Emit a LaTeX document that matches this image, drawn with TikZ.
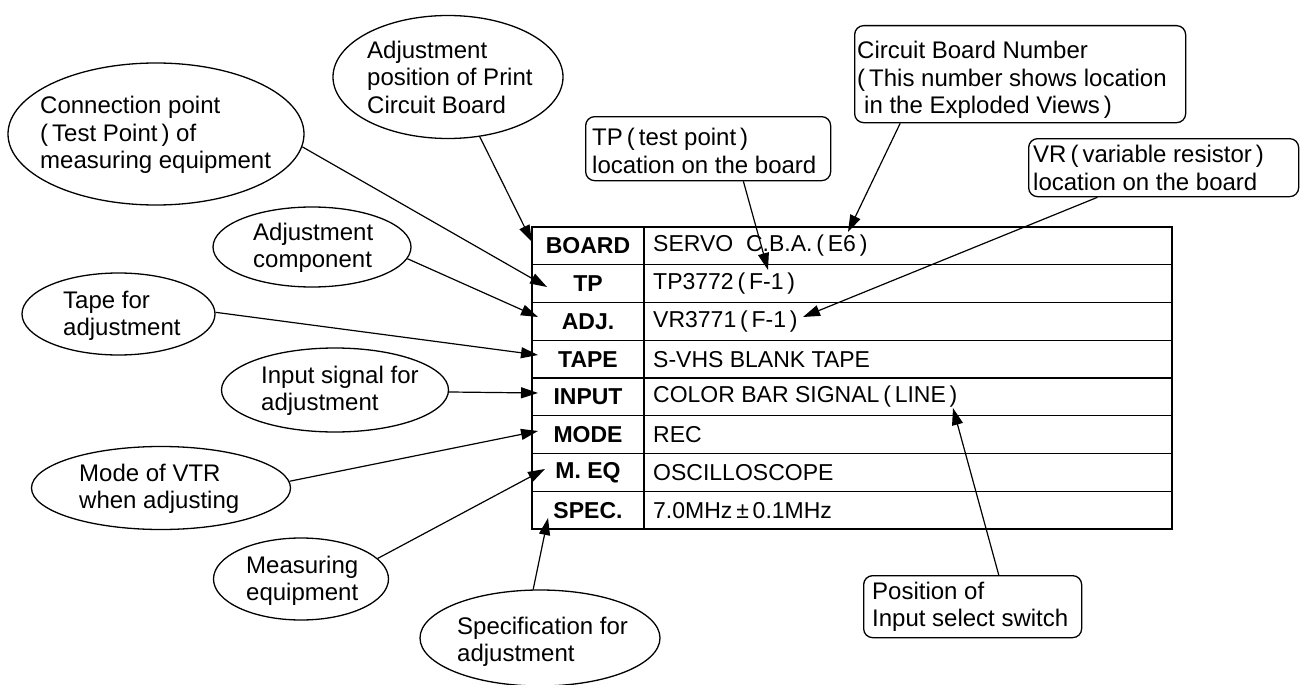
\documentclass[tikz,border=0pt]{standalone}
\usepackage{fontspec}
\setmainfont{Liberation Sans}
\usetikzlibrary{arrows.meta,shapes.geometric,calc}
\begin{document}
\begin{tikzpicture}[x=1pt,y=-1pt,
  ell/.style={draw, ellipse, line width=1.3pt, inner sep=0pt},
  ctext/.style={anchor=west, align=left, inner sep=0pt, font=\fontsize{24}{27.5}\selectfont},
  rbox/.style={draw, rounded corners=9pt, line width=1.3pt, anchor=north west, inner sep=0pt},
  lab/.style={font=\fontsize{23}{26}\selectfont\bfseries, inner sep=0pt},
  val/.style={anchor=west, font=\fontsize{23}{26}\selectfont, inner sep=0pt},
  arr/.style={line width=1.2pt, -{Triangle[length=17pt,width=11pt]}}]

\useasboundingbox (0,0) rectangle (1302,685);

% ---- table ----
\draw[line width=1.8pt] (532,227) rectangle (1172,529);
\draw[line width=1.3pt] (644,227) -- (644,529);
\foreach \i in {1,...,7} \draw[line width=1.2pt] (532,{227+\i*37.75}) -- (1172,{227+\i*37.75});

\node[lab] (lboard) at (588,245.9) {BOARD};
\node[lab] (ltp)    at (588,283.6) {TP};
\node[lab] (ladj)   at (588,321.4) {ADJ.};
\node[lab] (ltape)  at (588,359.1) {TAPE};
\node[lab] (linput) at (588,396.9) {INPUT};
\node[lab] (lmode)  at (588,434.6) {MODE};
\node[lab] (lmeq)   at (588,472.4) {M. EQ};
\node[lab] (lspec)  at (588,510.1) {SPEC.};

\node[val] (vboard) at (653,245.9) {SERVO\ \ C.B.A.\,(\,E6\,)};
\node[val] (vtp)    at (653,283.6) {TP3772\,(\,F-1\,)};
\node[val] (vadj)   at (653,321.4) {VR3771\,(\,F-1\,)};
\node[val] (vtape)  at (653,359.1) {S-VHS BLANK TAPE};
\node[val] (vinput) at (653,396.9) {COLOR BAR SIGNAL\,(\,LINE\,)};
\node[val] (vmode)  at (653,434.6) {REC};
\node[val] (vmeq)   at (653,472.4) {OSCILLOSCOPE};
\node[val] (vspec)  at (653,510.1) {7.0MHz\,±\,0.1MHz};

% arrow tips inside the table
\coordinate (tboard) at (532,242);
\coordinate (ttp)    at (547,287);
\coordinate (tadj)   at (538,317);
\coordinate (ttape)  at (538,355);
\coordinate (tinput) at (538,393);
\coordinate (tmode)  at (538,431);
\coordinate (tmeq)   at (545,469);
\coordinate (tspec)  at (548,518);
\coordinate (ttpv)   at (768,270);
\coordinate (tcbn)   at (848,232);
\coordinate (tvr)    at (803,317);
\coordinate (tpos)   at (953,408);

% ---- ellipses ----
\node[ell, minimum width=230pt, minimum height=123pt] (pcb) at (448,77) {};
\node[ctext] (pcbt) at (367,77) {Adjustment\\position of Print\\Circuit Board};

\node[ell, minimum width=296pt, minimum height=142pt] (conn) at (156,134) {};
\node[ctext] (connt) at (40,135) {Connection point\\(\,Test Point\,) of\\measuring equipment};

\node[ell, minimum width=198pt, minimum height=80pt] (adjc) at (312,247) {};
\node[ctext] (adjct) at (253,248) {Adjustment\\component};

\node[ell, minimum width=193pt, minimum height=82pt] (tape) at (118.5,314) {};
\node[ctext] (tapet) at (63,316) {Tape for\\adjustment};

\node[ell, minimum width=227pt, minimum height=84pt] (inp) at (335,390) {};
\node[ctext] (inpt) at (261,391) {Input signal for\\adjustment};

\node[ell, minimum width=259pt, minimum height=83pt] (mode) at (161,488) {};
\node[ctext] (modet) at (79,489) {Mode of VTR\\when adjusting};

\node[ell, minimum width=175pt, minimum height=82pt] (meas) at (301,579) {};
\node[ctext] (meast) at (246,581) {Measuring\\equipment};

\node[ell, minimum width=240pt, minimum height=96pt] (spec) at (540,638) {};
\node[ctext] (spect) at (457,642) {Specification for\\adjustment};

% ---- rounded boxes ----
\node[rbox, minimum width=245pt, minimum height=64pt] (tpbox) at (585,116) {};
\node[ctext] (tpboxt) at (592,151) {TP\,(\,test point\,)\\location on the board};

\node[rbox, minimum width=331pt, minimum height=97pt] (cbn) at (854,25) {};
\node[ctext] (cbnt) at (857,80) {Circuit Board Number\\(\,This number shows location\\\hspace{7pt}in the Exploded Views\,)};

\node[rbox, minimum width=270pt, minimum height=58pt] (vr) at (1028,138) {};
\node[ctext] (vrt) at (1033,168) {VR\,(\,variable resistor\,)\\location on the board};

\node[rbox, minimum width=218pt, minimum height=62pt] (pos) at (863,575) {};
\node[ctext] (post) at (872,607) {Position of\\Input select switch};

% ---- connectors ----
\draw[arr] (pcb.-62)  -- (tboard);
\draw[arr] (conn.-5)  -- (ttp);
\draw[arr] (adjc.-7)  -- (tadj);
\draw[arr] (tape.1)   -- (ttape);
\draw[arr] (inp.-1)   -- (tinput);
\draw[arr] (mode.3)   -- (tmode);
\draw[arr] (meas.15)  -- (tmeq);
\draw[arr] (spec.98)  -- (tspec);
\draw[arr] ($(tpbox.south west)!0.643!(tpbox.south east)$) -- (ttpv);
\draw[arr] ($(cbn.south west)!0.139!(cbn.south east)$) -- (tcbn);
\draw[arr] ($(vr.south west)!0.256!(vr.south east)$) -- (tvr);
\draw[arr] ($(pos.north west)!0.619!(pos.north east)$) -- (tpos);
\end{tikzpicture}
\end{document}
